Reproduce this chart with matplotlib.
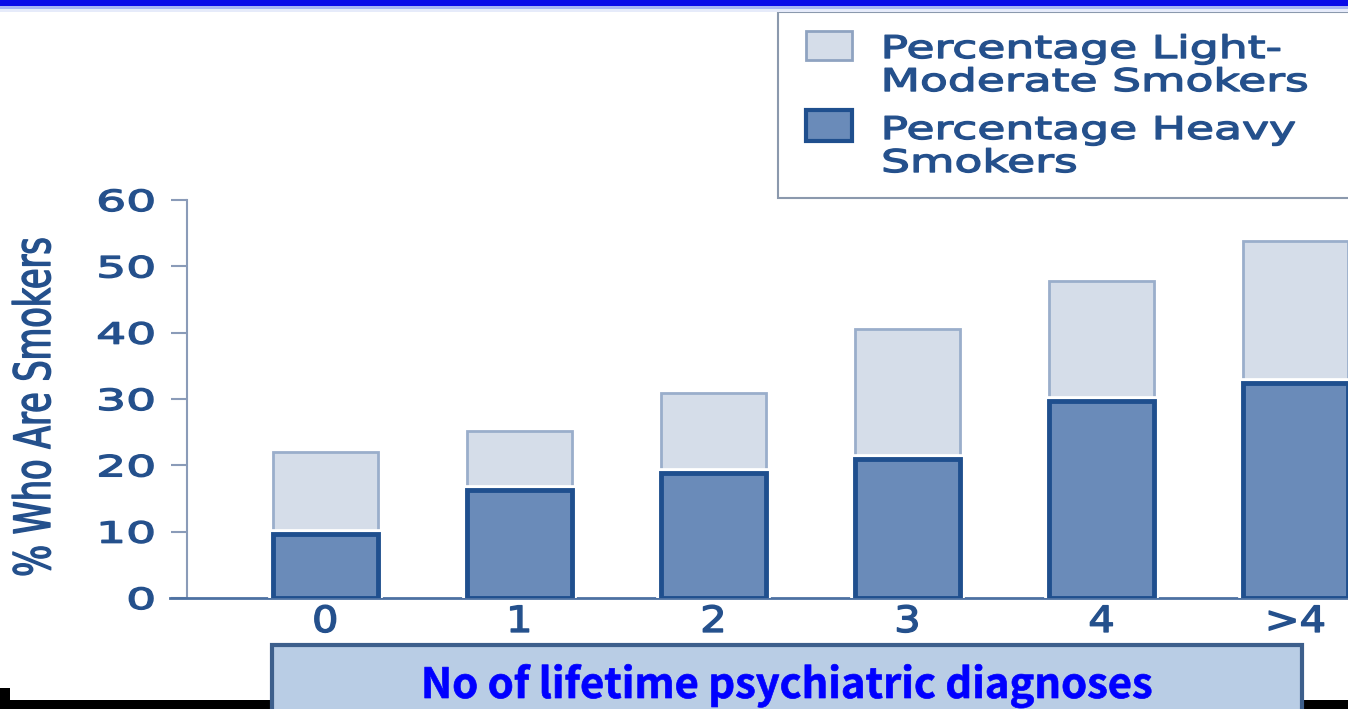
import numpy as np
import matplotlib
matplotlib.use("Agg")
import matplotlib.pyplot as plt
from matplotlib.patches import Rectangle
from matplotlib.patheffects import AbstractPathEffect
from matplotlib.transforms import Affine2D

# data
categories = ["0", "1", "2", "3", "4", ">4"]
heavy = [9.7, 16.3, 18.9, 21.0, 29.7, 32.4]
light = [12.3, 8.9, 12.0, 19.6, 18.1, 21.4]
yticks = [0, 10, 20, 30, 40, 50, 60]
legend_light = ["Percentage Light-", "Moderate Smokers"]
legend_heavy = ["Percentage Heavy", "Smokers"]
ylabel = "% Who Are Smokers"
xlabel = "No of lifetime psychiatric diagnoses"

W, H = 1348, 709
TXT = "#24508c"
HEAVY_FILL, HEAVY_EDGE = "#6a8bb9", "#1f4f8e"
LIGHT_FILL, LIGHT_EDGE = "#d5dde9", "#9aaecb"


class Stretch(AbstractPathEffect):
    """stretch text horizontally about a point of its own extent (0 left, 1 right),
    optionally with a thin outline to make the glyphs heavier"""
    def __init__(self, sx, anchor=0.0, lw=0.0):
        super().__init__()
        self.sx = sx
        self.anchor = anchor
        self.lw = lw

    def draw_path(self, renderer, gc, tpath, affine, rgbFace=None):
        ext = tpath.get_extents()
        x0 = ext.x0 + self.anchor * ext.width
        t = Affine2D().translate(-x0, 0).scale(self.sx, 1).translate(x0, 0)
        gc0 = renderer.new_gc()
        gc0.copy_properties(gc)
        gc0.set_linewidth(self.lw)
        renderer.draw_path(gc0, tpath, t + affine, rgbFace)
        gc0.restore()


def fx(px):
    return px / W


def fy(py):
    return 1 - py / H


fig = plt.figure(figsize=(W / 100, H / 100), dpi=100)
fig.patch.set_facecolor("white")

ax = fig.add_axes([fx(170), fy(598), 1 - fx(170), (598 - 200) / H])
x = np.arange(len(categories))
width = 0.54

ax.bar(x, light, width, bottom=heavy, color=LIGHT_FILL, edgecolor=LIGHT_EDGE,
       linewidth=2, zorder=2)
# white gap between the two parts of each bar
ax.bar(x, heavy, width, color="white", edgecolor="white", linewidth=7, zorder=3)
ax.bar(x, heavy, width, color=HEAVY_FILL, edgecolor=HEAVY_EDGE, linewidth=3.5, zorder=4)

ax.set_xlim(-0.80, 5.27)
ax.set_ylim(0, 60)
ax.set_facecolor("none")
for s in ["top", "right"]:
    ax.spines[s].set_visible(False)
ax.spines["left"].set_position(("data", -0.71))
ax.spines["left"].set_color("#8a9bb8")
ax.spines["left"].set_linewidth(1.5)
ax.spines["bottom"].set_color("#4d71a2")
ax.spines["bottom"].set_linewidth(2)

ax.set_yticks(yticks)
ax.set_yticklabels([str(v) for v in yticks])
ax.tick_params(axis="y", direction="out", length=11.5, width=1.5, color="#8a9bb8",
               pad=12, labelsize=21, labelcolor=TXT)
for t in ax.get_yticklabels():
    t.set_path_effects([Stretch(1.62, 1.0, 1.0)])

ax.set_xticks(x)
ax.set_xticklabels(categories)
ax.tick_params(axis="x", length=0, pad=5, labelsize=26, labelcolor=TXT)
for t in ax.get_xticklabels():
    t.set_path_effects([Stretch(1.15, 0.5, 1.0)])

# y axis title, condensed
fig.text(fx(36), fy(407), ylabel, rotation=90, ha="center", va="center",
         fontsize=36, color=TXT, path_effects=[Stretch(0.67, 0.5, 1.0)])

# legend box, drawn by hand so the stretched text fits
fig.patches.append(Rectangle((fx(778), fy(198)), fx(600), (198 - 12) / H,
                             transform=fig.transFigure, facecolor="white",
                             edgecolor="#8b99ad", linewidth=1.5))
fig.patches.append(Rectangle((fx(806), fy(60)), fx(46), 29 / H, transform=fig.transFigure,
                             facecolor=LIGHT_FILL, edgecolor="#8fa3c1", linewidth=2))
fig.patches.append(Rectangle((fx(806), fy(141)), fx(46), 31 / H, transform=fig.transFigure,
                             facecolor=HEAVY_FILL, edgecolor=HEAVY_EDGE, linewidth=3))
for lines, base in [(legend_light, 58), (legend_heavy, 139)]:
    for i, line in enumerate(lines):
        fig.text(fx(882), fy(base + i * 33), line, ha="left", va="baseline",
                 fontsize=22.5, color=TXT, path_effects=[Stretch(1.46, 0.0, 1.0)])

# slide decorations: blue band on top, black strip at bottom
fig.patches.append(Rectangle((0, fy(6)), 1, 6 / H, transform=fig.transFigure,
                             facecolor="#0a0ae8", edgecolor="none"))
fig.patches.append(Rectangle((0, fy(9)), 1, 3 / H, transform=fig.transFigure,
                             facecolor="#a9b5f3", edgecolor="none"))
fig.patches.append(Rectangle((0, fy(12)), 1, 3 / H, transform=fig.transFigure,
                             facecolor="#e6ebfa", edgecolor="none"))
fig.patches.append(Rectangle((0, 0), 1, 9 / H, transform=fig.transFigure,
                             facecolor="black", edgecolor="none"))
fig.patches.append(Rectangle((0, 0), fx(10), 21 / H, transform=fig.transFigure,
                             facecolor="black", edgecolor="none"))

# x axis title in a blue box
fig.patches.append(Rectangle((fx(272), fy(720)), fx(1030), 75 / H, transform=fig.transFigure,
                             facecolor="#b9cde5", edgecolor="#3d5f8c", linewidth=3, zorder=5))
fig.text(fx(787), fy(698), xlabel, ha="center", va="baseline", fontsize=30,
         fontweight="bold", color="#0000ff", family=["Noto Sans CJK KR", "DejaVu Sans"],
         zorder=6, path_effects=[Stretch(1.0, 0.5, 0.5)])

fig.savefig("out.png", dpi=100)
